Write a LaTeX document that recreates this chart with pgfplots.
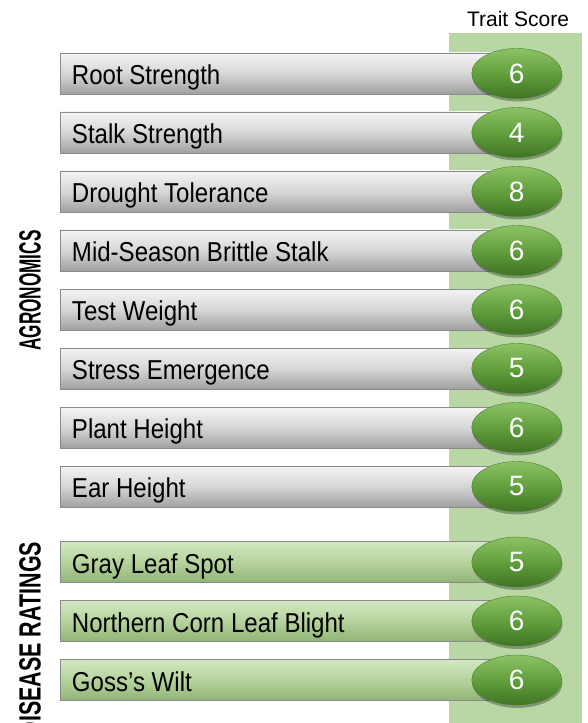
\documentclass[border=0pt]{standalone}
\usepackage{fontspec}
\setmainfont{Liberation Sans}
\usepackage{graphicx}
\usepackage{pgfplots}
\pgfplotsset{compat=1.18}
\usepackage{pgfplotstable}
\usetikzlibrary{shapes.geometric,shadows}

\definecolor{colgreen}{HTML}{B9D7A5}
\definecolor{barTop}{HTML}{F4F4F4}
\definecolor{barMid}{HTML}{D6D6D6}
\definecolor{barBot}{HTML}{A0A0A0}
\definecolor{barEdge}{HTML}{8A8A8A}
\definecolor{gbarTop}{HTML}{D3E8C2}
\definecolor{gbarMid}{HTML}{B6D39C}
\definecolor{gbarBot}{HTML}{92B478}
\definecolor{ellTop}{HTML}{8CC266}
\definecolor{ellMid}{HTML}{62A03C}
\definecolor{ellBot}{HTML}{3E7424}
\definecolor{ellEdge}{HTML}{4A7F2C}

% y = bar centre (pixels from top), len = drawn bar length, sx = score bubble x
\pgfplotstableread[col sep=comma]{
y,len,lx,sx,score,label
73.5,437,11.7,456.7,6,Root Strength
132.5,437,11.7,456.7,4,Stalk Strength
191.5,437,11.7,456.7,8,Drought Tolerance
250.5,437,11.7,456.7,6,Mid-Season Brittle Stalk
309.5,437,11.7,456.7,6,Test Weight
368.5,437,11.7,456.7,5,Stress Emergence
427.5,437,11.7,456.7,6,Plant Height
486.5,437,11.7,456.7,5,Ear Height
}\agro

\pgfplotstableread[col sep=comma]{
y,len,lx,sx,score,label
562,437,11.7,456.7,5,Gray Leaf Spot
621,437,11.7,456.7,6,Northern Corn Leaf Blight
680,437,11.7,456.7,6,Goss’s Wilt
}\disease

\tikzset{
  barlabel/.style={anchor=base west, inner sep=0pt, text=black, yshift=-8.6pt,
    font=\fontsize{20.5}{23}\selectfont},
  bubble/.style={ellipse, anchor=center, minimum width=67.5pt, minimum height=37.5pt,
    inner sep=0pt, top color=ellTop, bottom color=ellBot, middle color=ellMid,
    draw=ellEdge, line width=0.3pt, text=white,
    font=\fontsize{21}{24}\selectfont,
    drop shadow={shadow xshift=0.6pt, shadow yshift=-2.2pt, opacity=0.3, fill=black}},
}

\begin{document}
\begin{tikzpicture}
\begin{axis}[
  name=ax,
  scale only axis,
  width=440.25pt, height=542.25pt,
  xmin=-60, xmax=527,
  ymin=0, ymax=723,
  y dir=reverse,
  hide axis,
  clip=true,
]
% green score column
\addplot[fill=colgreen, draw=none] coordinates {(389,33) (522,33) (522,730) (389,730)} -- cycle;

% bars, one plot per bar so that each bar carries its own gradient
\pgfplotsinvokeforeach{0,...,7}{
\addplot[xbar, bar width=41, top color=barTop, bottom color=barBot, middle color=barMid,
  draw=barEdge, line width=0.6pt, restrict expr to domain={\coordindex}{#1:#1}]
  table[x=len, y=y] {\agro};
}
\pgfplotsinvokeforeach{0,...,2}{
\addplot[xbar, bar width=41, top color=gbarTop, bottom color=gbarBot, middle color=gbarMid,
  draw=barEdge, line width=0.6pt, restrict expr to domain={\coordindex}{#1:#1}]
  table[x=len, y=y] {\disease};
}

% score bubbles
\addplot[draw=none, mark=none, point meta=explicit symbolic,
  nodes near coords={\pgfplotspointmeta},
  every node near coord/.style={bubble}] table[x=sx, y=y, meta=score] {\agro};
\addplot[draw=none, mark=none, point meta=explicit symbolic,
  nodes near coords={\pgfplotspointmeta},
  every node near coord/.style={bubble}] table[x=sx, y=y, meta=score] {\disease};

% bar labels
\addplot[draw=none, mark=none, point meta=explicit symbolic,
  nodes near coords={\scalebox{0.88}[1]{\pgfplotspointmeta}},
  every node near coord/.style={barlabel}] table[x=lx, y=y, meta=label] {\agro};
\addplot[draw=none, mark=none, point meta=explicit symbolic,
  nodes near coords={\scalebox{0.88}[1]{\pgfplotspointmeta}},
  every node near coord/.style={barlabel}] table[x=lx, y=y, meta=label] {\disease};

% headings
\node[anchor=base, inner sep=0pt, font=\fontsize{15.75}{18}\selectfont]
  at (axis cs:458,26.7) {Trait Score};
\node[rotate=90, anchor=base, inner sep=0pt, font=\bfseries\fontsize{23}{26}\selectfont]
  at (axis cs:-19.5,290.5) {\scalebox{0.56}[1]{AGRONOMICS}};
\node[rotate=90, anchor=base east, inner sep=0pt, font=\bfseries\fontsize{23}{26}\selectfont]
  at (axis cs:-19.5,541.7) {\scalebox{0.70}[1]{DISEASE RATINGS}};
\end{axis}
\pgfresetboundingbox
\path (ax.south west) rectangle (ax.north east);
\end{tikzpicture}
\end{document}
